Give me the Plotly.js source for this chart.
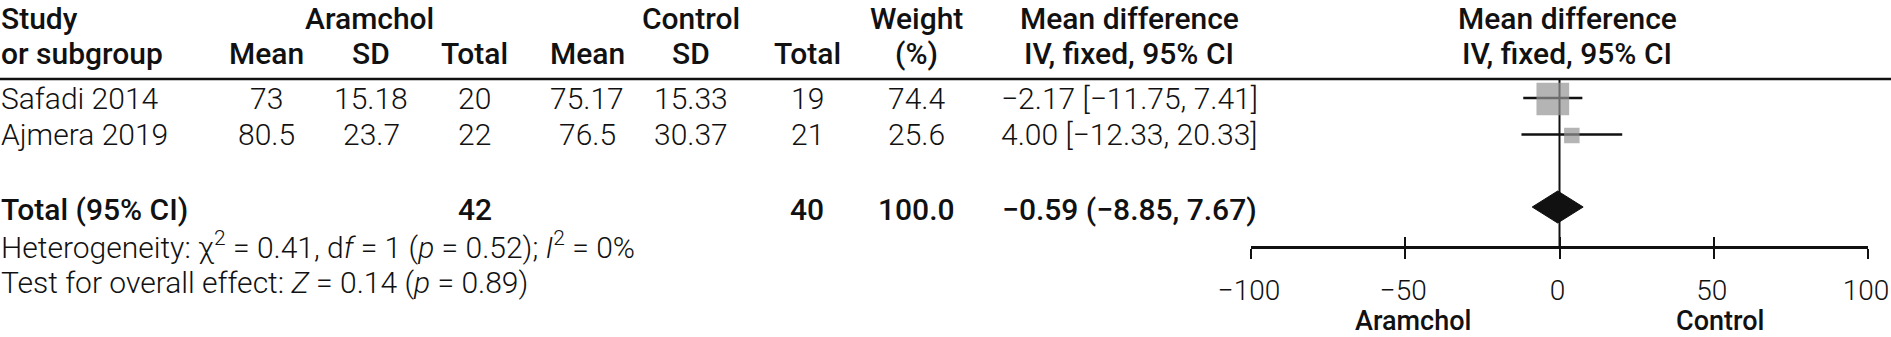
<!DOCTYPE html>
<html><head><meta charset="utf-8">
<script src="https://cdn.plot.ly/plotly-3.0.1.min.js"></script>
<style>html,body{margin:0;padding:0;background:#fff;} #chart{width:1891px;height:337px;}</style>
</head><body><div id="chart"></div>
<script>
// ---- data ----
const studies = ["Safadi 2014", "Ajmera 2019"];
const aramcholMean = ["73", "80.5"];
const aramcholSD = ["15.18", "23.7"];
const aramcholTotal = [20, 22];
const controlMean = ["75.17", "76.5"];
const controlSD = ["15.33", "30.37"];
const controlTotal = [19, 21];
const weights = [74.4, 25.6];
const meanDiff = [-2.17, 4.00];
const ciLow = [-11.75, -12.33];
const ciHigh = [7.41, 20.33];
const pooledEstimate = [-0.59, -8.85, 7.67]; // md, lower, upper
const groupTotals = [42, 40];
const totalWeight = "100.0";
const heterogeneityStats = ["0.41", "1", "0.52", "0"]; // chi2, df, p, I2
const overallStats = ["0.14", "0.89"]; // Z, p
const tickVals = [-100, -50, 0, 50, 100];
const tickLabels = ["\u2212100", "\u221250", "0", "50", "100"];
const favourLabels = ["Aramchol", "Control"];
const groupNames = ["Aramchol", "Control"];

// ---- style / layout constants ----
const W = 1891, H = 337;
const FONT = "Roboto";
const FS = 30;
const ASC = 0.928, DESC = 0.244;   // font metrics (em)
const BLACK = "#111";
const BOXGREY = "#949494";
const axisY = 247;
const rowY0 = 99, rowGap = 36.5;
const totalY = 207;

const dash = s => String(s).replace(/-/g, "\u2212");
const f2 = v => dash(v.toFixed(2));

const light = {family: FONT, size: FS, color: BLACK, weight: 300};
const bold = {family: FONT, size: FS, color: BLACK, weight: 500};

const annotations = [];
// place text by its baseline (pixels from top)
function ann(text, xPx, baseline, opts = {}) {
  const font = opts.font || light;
  const h = opts.h || Math.ceil((ASC + DESC) * font.size) + 1;
  const center = baseline + DESC * font.size - h / 2;
  annotations.push({
    text: text, x: opts.xref === "x" ? xPx : xPx / W, xref: opts.xref || "paper",
    y: center, yref: "y", xanchor: opts.xanchor || "center", yanchor: "middle",
    height: h, valign: "bottom", showarrow: false, borderpad: 0, font: font
  });
}

// columns (pixel centers)
const col = {mean1: 266, sd1: 371, tot1: 475, mean2: 587, sd2: 691, tot2: 807, wt: 916, md: 1129, plot: 1567};

// headers
const B1 = 28.5, B2 = 63.5;
ann("Study", 0, B1, {xanchor: "left", font: bold});
ann(groupNames[0], 369, B1, {font: bold});
ann(groupNames[1], 691, B1, {font: bold});
ann("Weight", col.wt, B1, {font: bold});
ann("Mean difference", col.md, B1, {font: bold});
ann("Mean difference", col.plot, B1, {font: bold});
ann("or subgroup", 0, B2, {xanchor: "left", font: bold});
ann("Mean", col.mean1, B2, {font: bold});
ann("SD", col.sd1, B2, {font: bold});
ann("Total", col.tot1, B2, {font: bold});
ann("Mean", col.mean2, B2, {font: bold});
ann("SD", col.sd2, B2, {font: bold});
ann("Total", col.tot2, B2, {font: bold});
ann("(%)", col.wt, B2, {font: bold});
ann("IV, fixed, 95% CI", col.md, B2, {font: bold});
ann("IV, fixed, 95% CI", col.plot, B2, {font: bold});

// study rows
const rowYs = studies.map((s, i) => rowY0 + i * rowGap);
studies.forEach((s, i) => {
  const b = rowYs[i] + 9.5;
  ann(s, 0, b, {xanchor: "left"});
  ann(aramcholMean[i], col.mean1, b);
  ann(aramcholSD[i], col.sd1, b);
  ann(String(aramcholTotal[i]), col.tot1, b);
  ann(controlMean[i], col.mean2, b);
  ann(controlSD[i], col.sd2, b);
  ann(String(controlTotal[i]), col.tot2, b);
  ann(weights[i].toFixed(1), col.wt, b);
  ann(f2(meanDiff[i]) + " [" + f2(ciLow[i]) + ", " + f2(ciHigh[i]) + "]", col.md, b);
});

// total row
const BT = 220;
ann("Total (95% CI)", 0, BT, {xanchor: "left", font: bold});
ann(String(groupTotals[0]), col.tot1, BT, {font: bold});
ann(String(groupTotals[1]), col.tot2, BT, {font: bold});
ann(totalWeight, col.wt, BT, {font: bold});
ann(f2(pooledEstimate[0]) + " (" + f2(pooledEstimate[1]) + ", " + f2(pooledEstimate[2]) + ")", col.md, BT, {font: bold});

ann("Heterogeneity: \u03c7<sup>2</sup> = " + heterogeneityStats[0] + ", d<i>f</i> = " + heterogeneityStats[1] +
    " (<i>p</i> = " + heterogeneityStats[2] + "); <i>I</i><sup>2</sup> = " + heterogeneityStats[3] + "%",
    0, 258, {xanchor: "left", h: 44});
ann("Test for overall effect: <i>Z</i> = " + overallStats[0] + " (<i>p</i> = " + overallStats[1] + ")",
    0, 293, {xanchor: "left"});

// favour labels under axis
const favFont = {family: FONT, size: 27, color: BLACK, weight: 500};
ann(favourLabels[0], -47.5, 330, {xref: "x", font: favFont});
ann(favourLabels[1], 52, 330, {xref: "x", font: favFont});

// ---- traces ----
const whiskerX = [], whiskerY = [];
studies.forEach((s, i) => { whiskerX.push(ciLow[i], ciHigh[i], null); whiskerY.push(rowYs[i] - 1, rowYs[i] - 1, null); });

const traces = [
  {type: "scatter", mode: "lines", x: whiskerX, y: whiskerY, xaxis: "x", yaxis: "y",
   line: {color: BLACK, width: 2.5}, hoverinfo: "skip", showlegend: false},
  {type: "scatter", mode: "markers", x: meanDiff, y: rowYs, xaxis: "x", yaxis: "y",
   marker: {symbol: "square", color: BOXGREY, size: weights.map(w => 1.6 * Math.pow(w, 0.7)), line: {width: 0}},
   hoverinfo: "skip", showlegend: false},
  {type: "scatter", mode: "lines", fill: "toself", fillcolor: BLACK,
   x: [pooledEstimate[1], pooledEstimate[0], pooledEstimate[2], pooledEstimate[0], pooledEstimate[1]],
   y: [totalY, totalY - 16, totalY, totalY + 16, totalY], xaxis: "x", yaxis: "y",
   line: {color: BLACK, width: 1}, hoverinfo: "skip", showlegend: false},
  {type: "scatter", mode: "markers", x: [tickVals[0]], y: [null], xaxis: "x3", yaxis: "y",
   hoverinfo: "skip", showlegend: false}
];

const axisPos = 1 - axisY / H;
const layout = {
  width: W, height: H, margin: {l: 0, r: 0, t: 0, b: 0},
  paper_bgcolor: "#fff", plot_bgcolor: "rgba(0,0,0,0)",
  showlegend: false,
  xaxis: {domain: [1251 / W, 1868 / W], range: [-100, 100], anchor: "free", position: axisPos,
    showline: true, linecolor: BLACK, linewidth: 2.5, showgrid: false, zeroline: false,
    ticks: "outside", ticklen: 10, tickwidth: 2, tickcolor: BLACK,
    tickmode: "array", tickvals: tickVals, ticktext: tickLabels, ticklabelstandoff: 8,
    ticklabeloverflow: "allow", ticklabelshift: -2,
    tickfont: {family: FONT, size: 28, color: BLACK, weight: 300}, fixedrange: true},
  xaxis3: {overlaying: "x", range: [-100, 100], anchor: "free", position: axisPos,
    showline: false, showgrid: false, zeroline: false,
    ticks: "inside", ticklen: 10, tickwidth: 2, tickcolor: BLACK,
    tickmode: "array", tickvals: tickVals, showticklabels: false, fixedrange: true},
  yaxis: {domain: [0, 1], range: [H, 0], visible: false, fixedrange: true},
  shapes: [
    {type: "line", xref: "paper", yref: "y", x0: 0, x1: 1, y0: 79, y1: 79, line: {color: BLACK, width: 2.5}},
    {type: "line", xref: "x", yref: "y", x0: 0, x1: 0, y0: 79, y1: axisY, line: {color: BLACK, width: 2}, layer: "below"}
  ],
  annotations: annotations
};

Plotly.newPlot("chart", traces, layout, {staticPlot: true, displayModeBar: false});
</script>
</body></html>
